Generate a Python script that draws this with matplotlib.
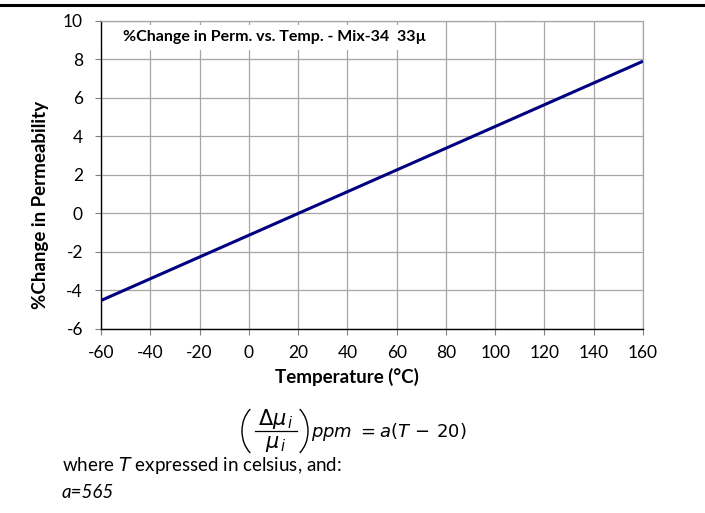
import numpy as np
import matplotlib
matplotlib.use('Agg')
import matplotlib.pyplot as plt
from matplotlib.patches import Rectangle, Arc
from matplotlib.lines import Line2D

# values
temps = [-60, -40, -20, 0, 20, 40, 60, 80, 100, 120, 140, 160]
perm_change = [-4.52, -3.39, -2.26, -1.13, 0.0, 1.13, 2.26, 3.39, 4.52, 5.65, 6.78, 7.91]
x_ticks = [-60, -40, -20, 0, 20, 40, 60, 80, 100, 120, 140, 160]
y_ticks = [-6, -4, -2, 0, 2, 4, 6, 8, 10]

plt.rcParams['font.family'] = ['Lato', 'DejaVu Sans']
plt.rcParams['mathtext.fontset'] = 'dejavusans'
plt.rcParams['axes.unicode_minus'] = False

fig = plt.figure(figsize=(7.05, 5.13), dpi=100)
ax = fig.add_axes([0.1433, 0.3587, 0.7688, 0.6004])

ax.plot(temps, perm_change, color='#000080', lw=2.2, zorder=3, solid_capstyle='butt')

ax.set_xlim(-60, 160)
ax.set_ylim(-6, 10)
ax.set_xticks(x_ticks)
ax.set_yticks(y_ticks)
ax.tick_params(labelsize=12.5, direction='out', length=4, color='#808080')
ax.tick_params(axis='y', pad=9)
ax.tick_params(axis='x', pad=7.5)
ax.set_axisbelow(True)
ax.grid(True, color='#a6a6a6', lw=0.9)

for s in ['top', 'right']:
    ax.spines[s].set_color('#a6a6a6')
    ax.spines[s].set_linewidth(0.9)
for s in ['left', 'bottom']:
    ax.spines[s].set_color('black')
    ax.spines[s].set_linewidth(1.0)

# white box behind the chart title
ax.add_patch(Rectangle((-60, 8.49), 136, 1.3, facecolor='white', edgecolor='none', zorder=1))
ax.text(-51.2, 9.15, '%Change in Perm. vs. Temp. - Mix-34  33\u00b5', fontsize=11.5,
        fontweight='bold', va='center', ha='left', zorder=2)

# axis titles
fig.text(0.4922, 0.265, 'Temperature (\u00b0C)', fontsize=13.5, fontweight='bold',
         ha='center', va='center')
fig.text(0.057, 0.600, '%Change in Permeability', fontsize=13.5, fontweight='bold',
         ha='center', va='center', rotation=90)

# thick rule at the top of the page
fig.add_artist(Line2D([0, 1], [0.991, 0.991], color='black', lw=2.2, transform=fig.transFigure))

# formula below the chart, laid out in page pixels
note = fig.add_axes([0, 0, 1, 1], zorder=-1)
note.set_xlim(0, 705)
note.set_ylim(513, 0)
note.axis('off')
note.text(276, 419, r'$\Delta\mu_{\,i}$', fontsize=15, ha='center', va='center')
note.plot([255, 297], [431, 431], color='black', lw=0.9)
note.text(276, 444, r'$\mu_{\,i}$', fontsize=15, ha='center', va='center')
note.add_patch(Arc((264, 431), 44, 56, theta1=122, theta2=238, color='black', lw=1.0))
note.add_patch(Arc((286, 431), 44, 56, theta1=-58, theta2=58, color='black', lw=1.0))
note.text(311, 432, r'$ppm\ = a(T\,-\,20)$', fontsize=13, ha='left', va='center')

note.text(62, 466, 'where $T$ expressed in celsius, and:', fontsize=13.5, va='center')
note.text(62, 493, 'a=565', fontsize=13.5, style='italic', va='center')

fig.savefig('out.png', dpi=100)
